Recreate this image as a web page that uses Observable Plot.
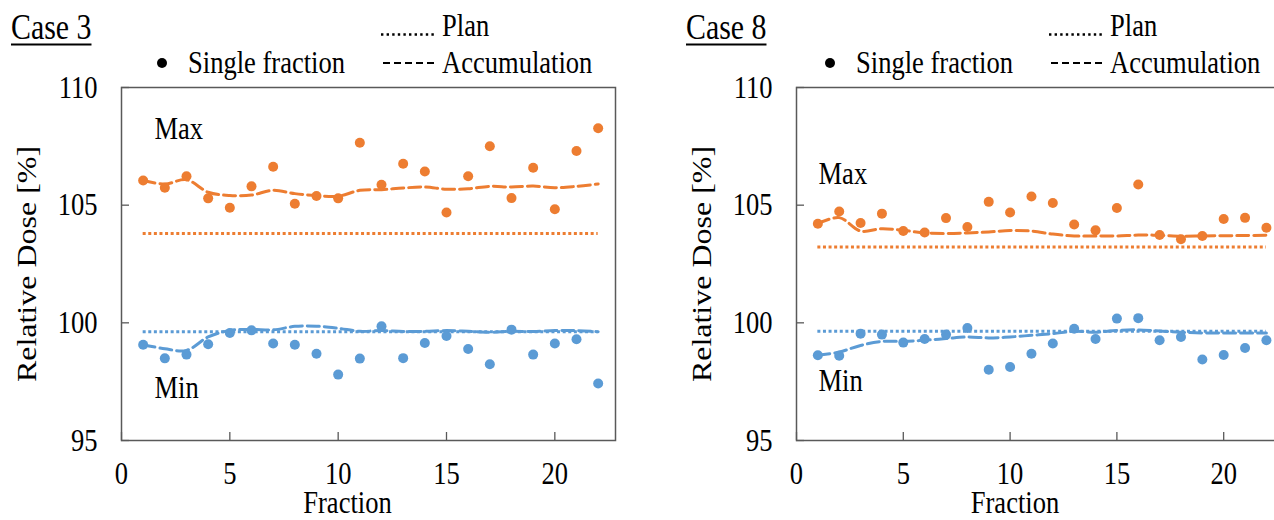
<!DOCTYPE html>
<html><head><meta charset="utf-8">
<script src="https://cdn.jsdelivr.net/npm/d3@7"></script>
<script src="https://cdn.jsdelivr.net/npm/@observablehq/plot@0.6"></script>
<style>
html,body{margin:0;padding:0;background:#fff;overflow:hidden;}
#root{position:relative;width:1274px;height:520px;overflow:hidden;font-family:"Liberation Serif","Times New Roman",serif;}
#root svg{position:absolute;top:0;}
</style></head><body><div id="root"></div>
<script>
// ---- data ----
const fractions = [1,2,3,4,5,6,7,8,9,10,11,12,13,14,15,16,17,18,19,20,21,22];
const xTicks = [0,5,10,15,20];
const yTicks = [95,100,105,110];

const case3MaxSingle = [106.05,105.74,106.23,105.29,104.89,105.8,106.63,105.06,105.39,105.29,107.65,105.87,106.76,106.43,104.69,106.23,107.5,105.3,106.59,104.83,107.3,108.27];
const case3MaxAccum  = [106.05,105.9,106.08,105.55,105.41,105.43,105.63,105.49,105.41,105.38,105.63,105.66,105.73,105.77,105.68,105.7,105.8,105.77,105.81,105.74,105.8,105.9];
const case3MinSingle = [99.07,98.49,98.65,99.09,99.57,99.68,99.12,99.07,98.69,97.8,98.48,99.85,98.5,99.14,99.44,98.89,98.24,99.71,98.65,99.12,99.3,97.42];
const case3MinAccum  = [99.07,98.9,98.83,99.4,99.68,99.72,99.7,99.85,99.86,99.77,99.64,99.67,99.63,99.64,99.67,99.64,99.6,99.64,99.63,99.67,99.67,99.62];
const case3PlanMax = 103.8;
const case3PlanMin = 99.62;

const case8MaxSingle = [104.21,104.73,104.24,104.64,103.9,103.84,104.45,104.07,105.14,104.69,105.37,105.09,104.18,103.93,104.88,105.88,103.73,103.55,103.69,104.41,104.46,104.04];
const case8MaxAccum  = [104.21,104.47,103.9,104.0,103.93,103.82,103.8,103.82,103.86,103.92,103.9,103.77,103.69,103.69,103.69,103.73,103.72,103.68,103.69,103.7,103.71,103.72];
const case8MinSingle = [98.62,98.6,99.54,99.5,99.16,99.31,99.5,99.78,98.01,98.12,98.69,99.12,99.75,99.31,100.18,100.2,99.26,99.4,98.44,98.63,98.93,99.26];
const case8MinAccum  = [98.62,98.76,99.04,99.21,99.21,99.26,99.33,99.4,99.36,99.4,99.47,99.54,99.64,99.6,99.68,99.7,99.65,99.6,99.57,99.57,99.57,99.57];
const case8PlanMax = 103.22;
const case8PlanMin = 99.64;

const annoText = ["Max","Min"];
const case3AnnoX = [1.52,1.52], case3AnnoY = [108.26,97.26];
const case8AnnoX = [1.03,1.03], case8AnnoY = [106.35,97.52];

const titles = ["Case 3","Case 8"];
const legendLabels = ["Plan","Single fraction","Accumulation"];

// ---- style ----
const ORANGE = "#ED7D31", BLUE = "#5B9BD5", GRAY = "#595959";
const FONT = '"Liberation Serif","Times New Roman",serif';
const SX = 0.83; // horizontal text compression of reference

function squeeze(svg){
  svg.querySelectorAll("text").forEach(el=>{
    const t = el.getAttribute("transform");
    if (t && /^translate\([^)]*\)/.test(t)) {
      el.setAttribute("transform", t.replace(/^(translate\([^)]*\))/, `$1 scale(${SX},1)`));
    } else {
      const x = +(el.getAttribute("x")||0);
      el.setAttribute("transform", `${t||""} translate(${x},0) scale(${SX},1) translate(${-x},0)`);
    }
  });
}

function panel({maxS,maxA,minS,minA,planMax,planMin,annoX,annoY,marginRight,labelDx}){
  const rows = a => fractions.map((f,i)=>({f, v:a[i]}));
  const anno = annoText.map((t,i)=>({t, x:annoX[i], y:annoY[i]}));
  const W = 640, H = 520, mt = 87, mb = 80, ml = 121;
  const pw = W - ml - marginRight, ph = H - mt - mb;
  const svg = Plot.plot({
    width: W, height: H,
    marginLeft: ml, marginRight, marginTop: mt, marginBottom: mb,
    x: {domain:[0,22.8], axis:null},
    y: {domain:[95,110], axis:null},
    style: {fontFamily: FONT, color:"#000", background:"transparent", overflow:"visible"},
    marks: [
      Plot.tickX(xTicks, {x:d=>d, insetTop: ph-8, stroke:GRAY, strokeWidth:1.3}),
      Plot.tickY(yTicks, {y:d=>d, insetRight: pw-8, stroke:GRAY, strokeWidth:1.3}),
      Plot.frame({stroke:GRAY, strokeWidth:1.5}),
      Plot.axisX({ticks:xTicks, tickSize:0, tickPadding:21, tickFormat:d=>String(d), fontSize:32, label:null}),
      Plot.axisY({ticks:yTicks, tickSize:0, tickPadding:24, tickFormat:d=>String(d), fontSize:32, label:null}),
      Plot.text(["Fraction"], {frameAnchor:"bottom", dy:72, dx:labelDx, textAnchor:"middle", lineAnchor:"bottom", fontSize:32, fill:"#000"}),
      Plot.text(["Relative Dose [%]"], {frameAnchor:"left", dx:-86, rotate:-90, textAnchor:"middle", lineAnchor:"bottom", fontSize:32, fill:"#000"}),
      Plot.ruleY([planMax], {x1:fractions[0], x2:fractions[fractions.length-1], stroke:ORANGE, strokeWidth:3, strokeDasharray:"3,2.6"}),
      Plot.ruleY([planMin], {x1:fractions[0], x2:fractions[fractions.length-1], stroke:BLUE, strokeWidth:3, strokeDasharray:"3,2.6"}),
      Plot.line(rows(maxA), {x:"f", y:"v", curve:"catmull-rom", stroke:ORANGE, strokeWidth:3, strokeDasharray:"12,5"}),
      Plot.line(rows(minA), {x:"f", y:"v", curve:"catmull-rom", stroke:BLUE, strokeWidth:3, strokeDasharray:"12,5"}),
      Plot.dot(rows(maxS), {x:"f", y:"v", r:5, fill:ORANGE}),
      Plot.dot(rows(minS), {x:"f", y:"v", r:5, fill:BLUE}),
      Plot.text(anno, {x:"x", y:"y", text:"t", textAnchor:"start", lineAnchor:"middle", fontSize:32, fill:"#000"})
    ]
  });
  squeeze(svg);
  return svg;
}

const root = document.getElementById("root");
const left = panel({maxS:case3MaxSingle,maxA:case3MaxAccum,minS:case3MinSingle,minA:case3MinAccum,
  planMax:case3PlanMax,planMin:case3PlanMin,annoX:case3AnnoX,annoY:case3AnnoY,marginRight:25,labelDx:-21});
left.style.left = "0px";
root.appendChild(left);
const right = panel({maxS:case8MaxSingle,maxA:case8MaxAccum,minS:case8MinSingle,minA:case8MinAccum,
  planMax:case8PlanMax,planMin:case8PlanMin,annoX:case8AnnoX,annoY:case8AnnoY,marginRight:32,labelDx:-25});
right.style.left = "675px";
root.appendChild(right);

// ---- titles & legends overlay ----
const ov = d3.select(root).append("svg").attr("width",1274).attr("height",520)
  .style("left","0px").style("font-family",FONT);
function txt(x,y,s,size){
  return ov.append("text").attr("transform",`translate(${x},${y}) scale(${SX},1)`)
    .attr("font-size",size).attr("fill","#000").text(s);
}
[[0,0],[675,668]].forEach(([ot,ol],k)=>{
  const t = txt(11+ot,39,titles[k],36);
  const w = t.node().getBBox().width*SX;
  ov.append("line").attr("x1",11+ot).attr("x2",11+ot+w).attr("y1",44.5).attr("y2",44.5)
    .attr("stroke","#000").attr("stroke-width",1.8);
  // Plan
  ov.append("line").attr("x1",381+ol).attr("x2",436+ol).attr("y1",34.5).attr("y2",34.5)
    .attr("stroke","#000").attr("stroke-width",2.4).attr("stroke-dasharray","2.4,3.2");
  txt(442+ol,36,legendLabels[0],32);
  // Single fraction
  ov.append("circle").attr("cx",162+ol).attr("cy",63).attr("r",5).attr("fill","#000");
  txt(188+ol,73,legendLabels[1],32);
  // Accumulation
  ov.append("line").attr("x1",383+ol).attr("x2",434+ol).attr("y1",63).attr("y2",63)
    .attr("stroke","#000").attr("stroke-width",2).attr("stroke-dasharray","7,4");
  txt(442+ol,73,legendLabels[2],32);
});
</script>
</body></html>
